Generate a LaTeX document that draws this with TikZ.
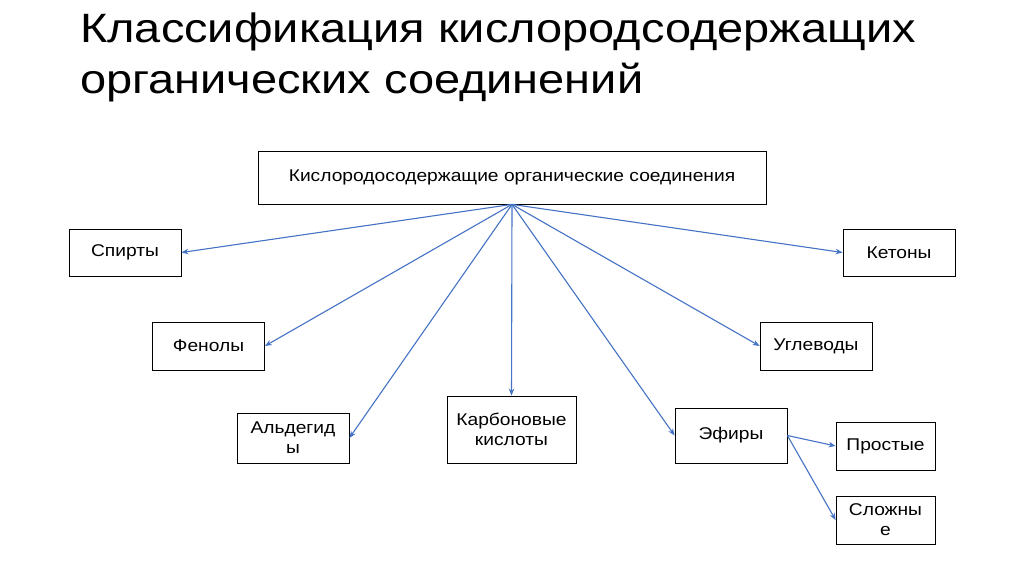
\documentclass[tikz,border=0pt]{standalone}
\usepackage{fontspec}
\setmainfont[FakeStretch=1.13]{Liberation Sans}
\newfontfamily\titlefont[FakeStretch=1.145]{Liberation Sans}
\usetikzlibrary{arrows.meta, positioning}

\definecolor{linkblue}{RGB}{68,114,196}
\tikzset{
    box/.style={draw, thick, minimum width=112pt, minimum height=48pt, align=center, font=\fontsize{17}{20}\selectfont},
    link/.style={-{Stealth[length=7pt, width=5.5pt]}, color=linkblue, line width=1.1pt}
}

\begin{document}
\begin{tikzpicture}[x=1pt, y=-1pt]
    \useasboundingbox (0,0) rectangle (1024,574);

    % title
    \node[anchor=north west, align=left, inner sep=0pt, font=\titlefont\fontsize{41}{51}\selectfont] (title) at (80,13)
        {Классификация кислородсодержащих\\органических соединений};

    % boxes
    \node[box, minimum width=508pt, minimum height=53pt] (root) at (512,177.5) {Кислородосодержащие органические соединения};
    \node[box, minimum height=47pt] (alc) at (125,252.5) {Спирты};
    \node[box] (phen) at (208.5,346) {Фенолы};
    \node[box, minimum height=50pt] (ald) at (293,438) {Альдегид\\ы};
    \node[box, minimum width=129pt, minimum height=67pt] (acid) at (511.5,429.5) {Карбоновые\\кислоты};
    \node[box, minimum height=55pt] (ether) at (731,435.5) {Эфиры};
    \node[box, minimum width=99pt] (simple) at (885.5,446) {Простые};
    \node[box, minimum width=99pt] (complex) at (885.5,520) {Сложны\\е};
    \node[box, minimum height=47pt] (keton) at (899,252.5) {Кетоны};
    \node[box] (carb) at (816,346) {Углеводы};

    % arrows
    \draw[link] (root.south) -- (alc.east);
    \draw[link] (root.south) -- (phen.east);
    \draw[link] (root.south) -- (ald.east);
    \draw[link] (root.south) -- (acid.north);
    \draw[link] (root.south) -- (ether.west);
    \draw[link] (root.south) -- (carb.west);
    \draw[link] (root.south) -- (keton.west);
    \draw[link] (ether.east) -- (simple.west);
    \draw[link] (ether.east) -- (complex.west);
\end{tikzpicture}
\end{document}
